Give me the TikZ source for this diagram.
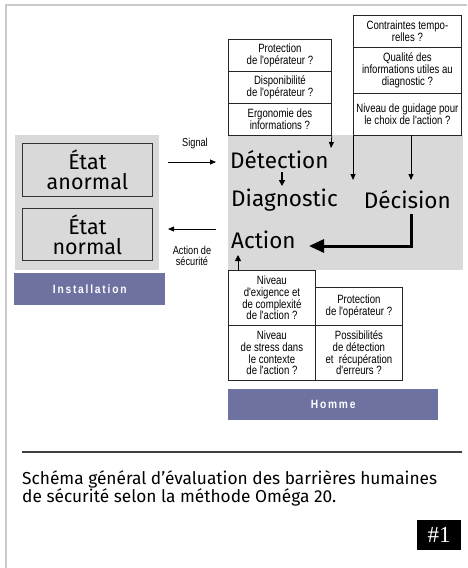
\documentclass[tikz,border=0pt]{standalone}
\usepackage{fontspec}
\usetikzlibrary{arrows.meta}
\newfontfamily\bigf{Fira Sans}
\newfontfamily\cond[FakeStretch=0.8]{Liberation Sans}
\newfontfamily\barf[FakeStretch=0.85,LetterSpace=15]{Liberation Sans}
\newfontfamily\numf{Liberation Serif}
\definecolor{panel}{HTML}{D9D9D9}
\definecolor{barc}{HTML}{6D72A1}
\definecolor{framec}{HTML}{C8C8C8}
\tikzset{
  qbox/.style={draw=black!85, line width=0.8pt, fill=white, anchor=north west, inner sep=1pt,
    align=center, font=\cond\fontsize{12}{11.8}\selectfont},
  bigtxt/.style={inner sep=0pt, font=\bigf\fontsize{22.5}{24}\selectfont},
  statebox/.style={draw=black!80, line width=0.8pt, anchor=north west, inner sep=0pt,
    align=center, font=\bigf\fontsize{21.5}{22}\selectfont},
  barbox/.style={fill=barc, anchor=north west, inner sep=0pt, text=white,
    font=\barf\bfseries\fontsize{12}{13}\selectfont},
  lbl/.style={inner sep=0pt, align=center, font=\cond\fontsize{11.5}{11.5}\selectfont},
  thin arrow/.style={line width=0.8pt, -{Triangle[length=6pt,width=5pt]}},
}
\begin{document}
\begin{tikzpicture}[x=1pt,y=-1pt]
\useasboundingbox (0,0) rectangle (467,568);
% outer frame
\draw[framec, line width=1.2pt] (6,568) -- (6,5) -- (467,5);
% panels
\fill[panel] (15,135) rectangle (159,270);
\fill[panel] (228,135) rectangle (463,270);
% state boxes
\node[statebox, minimum width=130pt, minimum height=53pt] (anormal) at (22,143) {État\\[-2pt]anormal};
\node[statebox, minimum width=130pt, minimum height=52pt] (normal) at (22,208) {État\\[-2pt]normal};
\node[barbox, minimum width=151pt, minimum height=32pt] (install) at (14,273) {Installation};
% top left stack
\node[qbox, minimum width=103pt, minimum height=32pt] (tl1) at (228,39) {Protection\\de l'opérateur ?};
\node[qbox, minimum width=103pt, minimum height=32pt] (tl2) at (228,71) {Disponibilité\\de l'opérateur ?};
\node[qbox, minimum width=103pt, minimum height=32pt] (tl3) at (228,103) {Ergonomie des\\informations ?};
% top right stack
\node[qbox, minimum width=108pt, minimum height=32pt] (tr1) at (353,15) {Contraintes tempo-\\relles ?};
\node[qbox, minimum width=108pt, minimum height=46pt] (tr2) at (353,47) {Qualité des\\informations utiles au\\diagnostic ?};
\node[qbox, minimum width=108pt, minimum height=42pt] (tr3) at (353,93) {Niveau de guidage pour\\le choix de l'action ?};
% bottom tables
\node[qbox, minimum width=87pt, minimum height=55pt] (bl1) at (228,270) {Niveau\\d'exigence et\\de complexité\\de l'action ?};
\node[qbox, minimum width=87pt, minimum height=55pt] (bl2) at (228,325) {Niveau\\de stress dans\\le contexte\\de l'action ?};
\node[qbox, minimum width=87pt, minimum height=38pt] (br1) at (315,287) {Protection\\de l'opérateur ?};
\node[qbox, minimum width=87pt, minimum height=55pt] (br2) at (315,325) {Possibilités\\de détection\\et~ récupération\\d'erreurs ?};
\node[barbox, minimum width=210pt, minimum height=31pt] (homme) at (228,389) {Homme};
% process words
\node[bigtxt, anchor=west] (det) at (230,160) {Détection};
\node[bigtxt, anchor=west] (diag) at (231,200) {Diagnostic};
\node[bigtxt, anchor=east] (dec) at (451,200) {Décision};
\node[bigtxt, anchor=west] (act) at (231,240) {Action};
% labels
\node[lbl] (signal) at (195,144) {Signal};
\node[lbl] (secu) at (192,256) {Action de\\sécurité};
% coordinates
\coordinate (sigA) at (168,162);
\coordinate (sigB) at (216,162);
\coordinate (actA) at (216,229);
\coordinate (actB) at (168,229);
\coordinate (t1) at (331,148);
\coordinate (t2) at (353,180);
\coordinate (t3s) at (411,135);
\coordinate (t3) at (411,180);
\coordinate (d1) at (282,172);
\coordinate (d2) at (282,186);
\coordinate (k1) at (411,214);
\coordinate (k2) at (309,246);
\coordinate (b1) at (238,270);
\coordinate (b2) at (238,255);
% arrows
\draw[thin arrow] (sigA) -- (sigB);
\draw[thin arrow] (actA) -- (actB);
\draw[thin arrow] (tl3.south east) -- (t1);
\draw[thin arrow] (tr3.south west) -- (t2);
\draw[thin arrow] (t3s) -- (t3);
\draw[line width=2pt, -{Triangle[length=6pt,width=6pt]}] (d1) -- (d2);
\draw[line width=3pt, -{Triangle[length=15pt,width=13pt]}] (k1) |- (k2);
\draw[line width=1pt, -{Triangle[length=6pt,width=6pt]}] (b1) -- (b2);
% separator
\draw[black!75, line width=1.6pt, dash pattern=on 0.6pt off 0.4pt] (22,452) -- (462,452);
% caption
\node[anchor=north west, inner sep=0pt, align=left, font=\bigf\fontsize{17.3}{18.5}\selectfont] (cap) at (22,470)
  {Schéma général d’évaluation des barrières humaines\\de sécurité selon la méthode Oméga 20.};
\node[fill=black, text=white, anchor=north west, minimum width=44pt, minimum height=30pt, inner sep=0pt,
  font=\numf\fontsize{23}{24}\selectfont] (num) at (417,520) {\#1};
\end{tikzpicture}
\end{document}
